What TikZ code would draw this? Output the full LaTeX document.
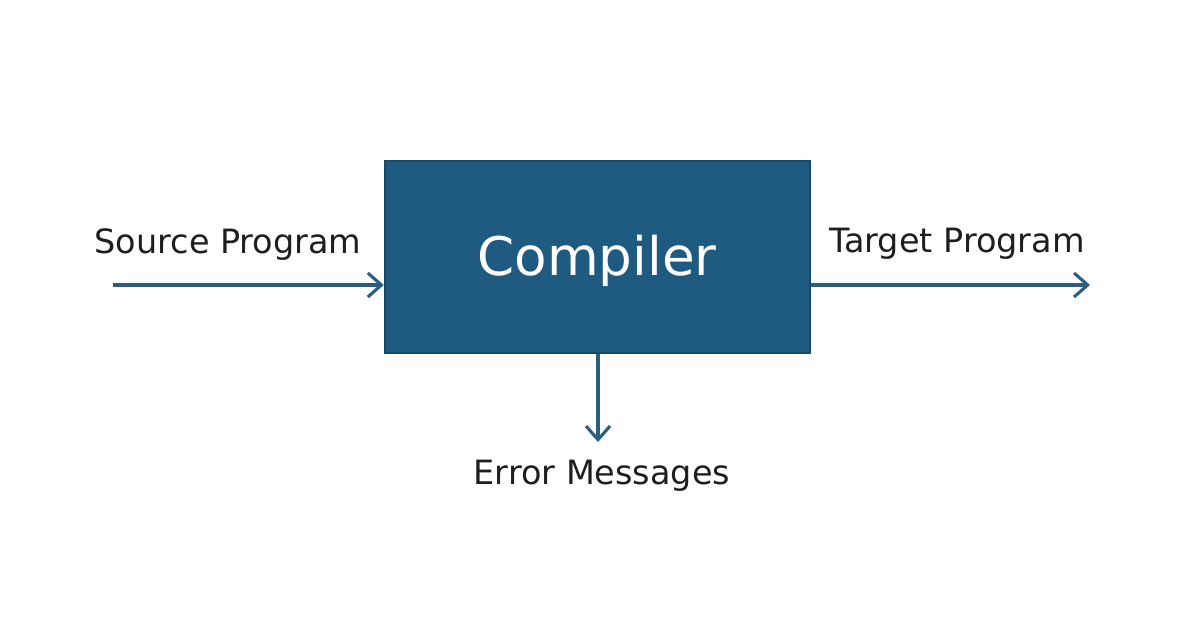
\documentclass[tikz,border=0pt]{standalone}
\usepackage{fontspec}
\setmainfont{DejaVu Sans}
\usetikzlibrary{arrows.meta, positioning, calc}
\definecolor{boxblue}{HTML}{1F5A80}
\definecolor{boxedge}{HTML}{17496B}
\definecolor{flowblue}{HTML}{2A5E80}
\definecolor{labelgray}{HTML}{1E1E1E}

\begin{document}
\begin{tikzpicture}[
    x=0.025cm, y=-0.025cm,
    every node/.style={font=\fontsize{23.8pt}{27pt}\selectfont, text=labelgray},
    stage/.style={draw=boxedge, fill=boxblue, line width=1.8pt, minimum width=10.62cm, minimum height=4.8cm, inner sep=0pt},
    flow/.style={-{Straight Barb[length=3.4mm, width=6mm, line width=2.2pt]}, line width=2.2pt, flowblue}
]
    \useasboundingbox (0,0) rectangle (1200,630);

    \node[stage] (compiler) at (597.5,257) {};
    \node[font=\fontsize{37.8pt}{42pt}\selectfont, text=white] (compilername) at (597,261) {Compiler};

    \coordinate (srcstart) at (113,285);
    \coordinate (tgtend) at (1090,285);
    \coordinate (errend) at (598,442);

    \draw[flow] (srcstart) -- (srcstart -| compiler.west);
    \draw[flow] (compiler.east |- tgtend) -- (tgtend);
    \draw[flow] (compiler.south -| errend) -- (errend);

    \node (srclabel) at (228,245) {Source Program};
    \node (tgtlabel) at (957,244) {Target Program};
    \node (errlabel) at (602,476) {Error Messages};
\end{tikzpicture}
\end{document}
